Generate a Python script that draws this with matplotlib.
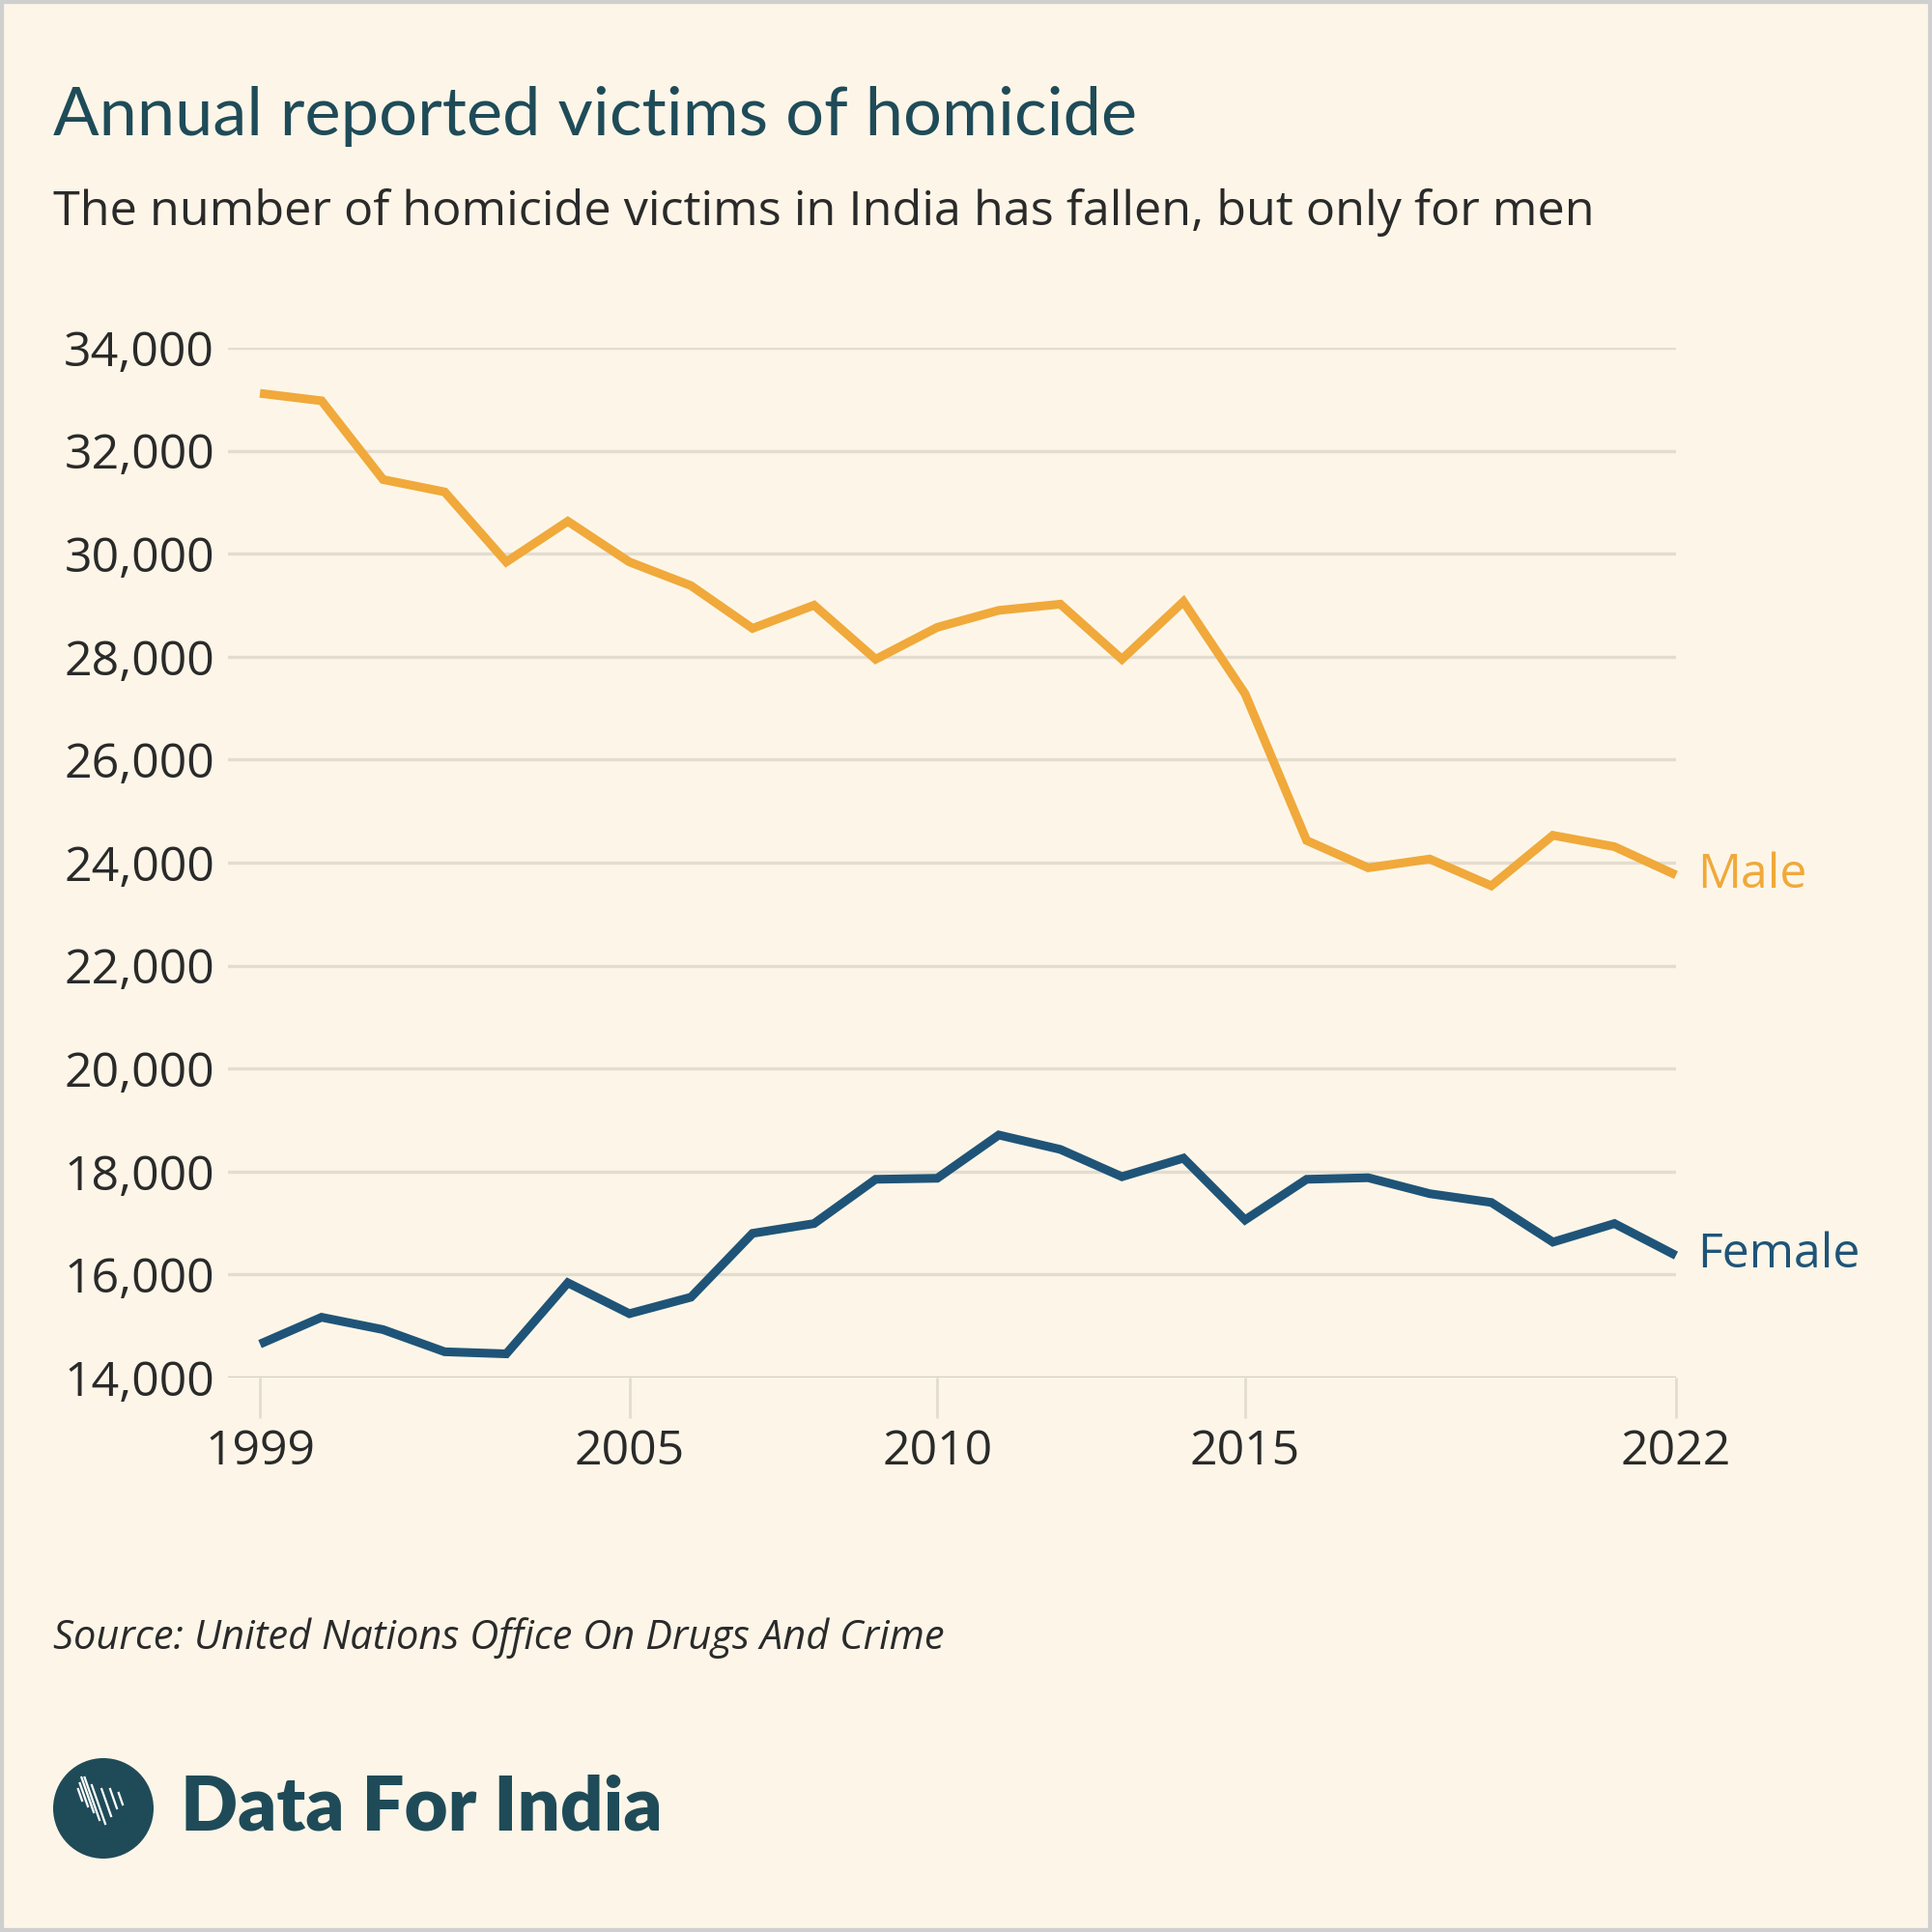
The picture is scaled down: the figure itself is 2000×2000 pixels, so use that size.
import matplotlib
matplotlib.use("Agg")
import matplotlib.pyplot as plt
from matplotlib.patches import Rectangle, Circle
import numpy as np

years = list(range(1999, 2023))
male = [33115, 32970, 31440, 31200, 29840, 30630, 29840, 29380, 28550, 29000,
        27950, 28570, 28900, 29020, 27950, 29070, 27280, 24430, 23900, 24070,
        23550, 24530, 24310, 23760]
female = [14650, 15170, 14930, 14500, 14460, 15840, 15240, 15560, 16800, 16990,
          17850, 17870, 18710, 18430, 17900, 18260, 17060, 17850, 17880, 17570,
          17400, 16630, 16990, 16370]
yticks = [14000, 16000, 18000, 20000, 22000, 24000, 26000, 28000, 30000, 32000, 34000]
xticks = [1999, 2005, 2010, 2015, 2022]

BG = "#FDF6E8"
ORANGE = "#F0A93A"
BLUE = "#1F5478"
TEAL = "#1F4B58"
TEXT = "#2a2a2a"
GRID = "#E3DDD0"

fig = plt.figure(figsize=(20, 20), dpi=100, facecolor=BG)
ax = fig.add_axes([0.118, 0.287, 0.8675 - 0.118, 0.82 - 0.287])
ax.set_facecolor(BG)

ax.plot(years, male, color=ORANGE, lw=6.5, solid_joinstyle="miter", solid_capstyle="butt",
        clip_on=False, zorder=3)
ax.plot(years, female, color=BLUE, lw=6.5, solid_joinstyle="miter", solid_capstyle="butt",
        clip_on=False, zorder=3)

ax.set_xlim(1998.48, 2022)
ax.set_ylim(14000, 34000)
for s in ax.spines.values():
    s.set_visible(False)
for v in yticks:
    ax.axhline(v, color=GRID if v != 14000 else "#D6CFC1", lw=2.4, zorder=1)
ax.set_yticks(yticks)
ax.set_yticklabels([f"{v:,}" for v in yticks], fontfamily="Open Sans", fontsize=36, color=TEXT)
ax.set_xticks(xticks)
ax.set_xticklabels([str(v) for v in xticks], fontfamily="Open Sans", fontsize=36, color=TEXT)
ax.tick_params(axis="y", length=0, pad=10)
ax.tick_params(axis="x", length=30, width=2, color=GRID, pad=8)

ax.text(2022.35, male[-1], "Male", color=ORANGE, fontfamily="Open Sans", fontsize=36,
        va="center", ha="left")
ax.text(2022.35, female[-1], "Female", color=BLUE, fontfamily="Open Sans", fontsize=36,
        va="center", ha="left")

fig.text(0.0275, 1 - 121 / 2000, "Annual reported victims of homicide", fontfamily="Lato",
         fontsize=50.7, color=TEAL, va="center", ha="left")
fig.text(0.0275, 1 - 220 / 2000, "The number of homicide victims in India has fallen, but only for men",
         fontfamily="Open Sans", fontsize=36.3, color=TEXT, va="center", ha="left")
fig.text(0.0275, 1 - 1696 / 2000, "Source: United Nations Office On Drugs And Crime",
         fontfamily="Open Sans", fontstyle="italic", fontsize=30, color=TEXT, va="center", ha="left")

# logo
cx, cy, r = 107 / 2000, 1 - 1872 / 2000, 52 / 2000
fig.patches.append(Circle((cx, cy), r, transform=fig.transFigure, facecolor=TEAL, edgecolor="none"))
stripes = [(-0.011, 0.004, 0.006), (-0.008, 0.001, 0.012), (-0.005, -0.002, 0.018),
           (-0.002, -0.006, 0.022), (0.001, -0.008, 0.020), (0.004, -0.004, 0.014),
           (0.007, 0.000, 0.010), (0.010, 0.002, 0.006)]
for dx, dy, ln in stripes:
    x0 = cx + dx
    y0 = cy + dy
    fig.lines.append(plt.Line2D([x0, x0 - ln * 0.35], [y0, y0 + ln], transform=fig.transFigure,
                                color="white", lw=1.6))
fig.text(187 / 2000, cy, "Data For India", fontfamily="Lato", fontweight="heavy", fontsize=56,
         color=TEAL, va="center", ha="left")

fig.patches.append(Rectangle((0, 0), 1, 1, transform=fig.transFigure, fill=False,
                             edgecolor="#CFCFCF", lw=6))

fig.savefig("out.png", dpi=100, facecolor=BG)
